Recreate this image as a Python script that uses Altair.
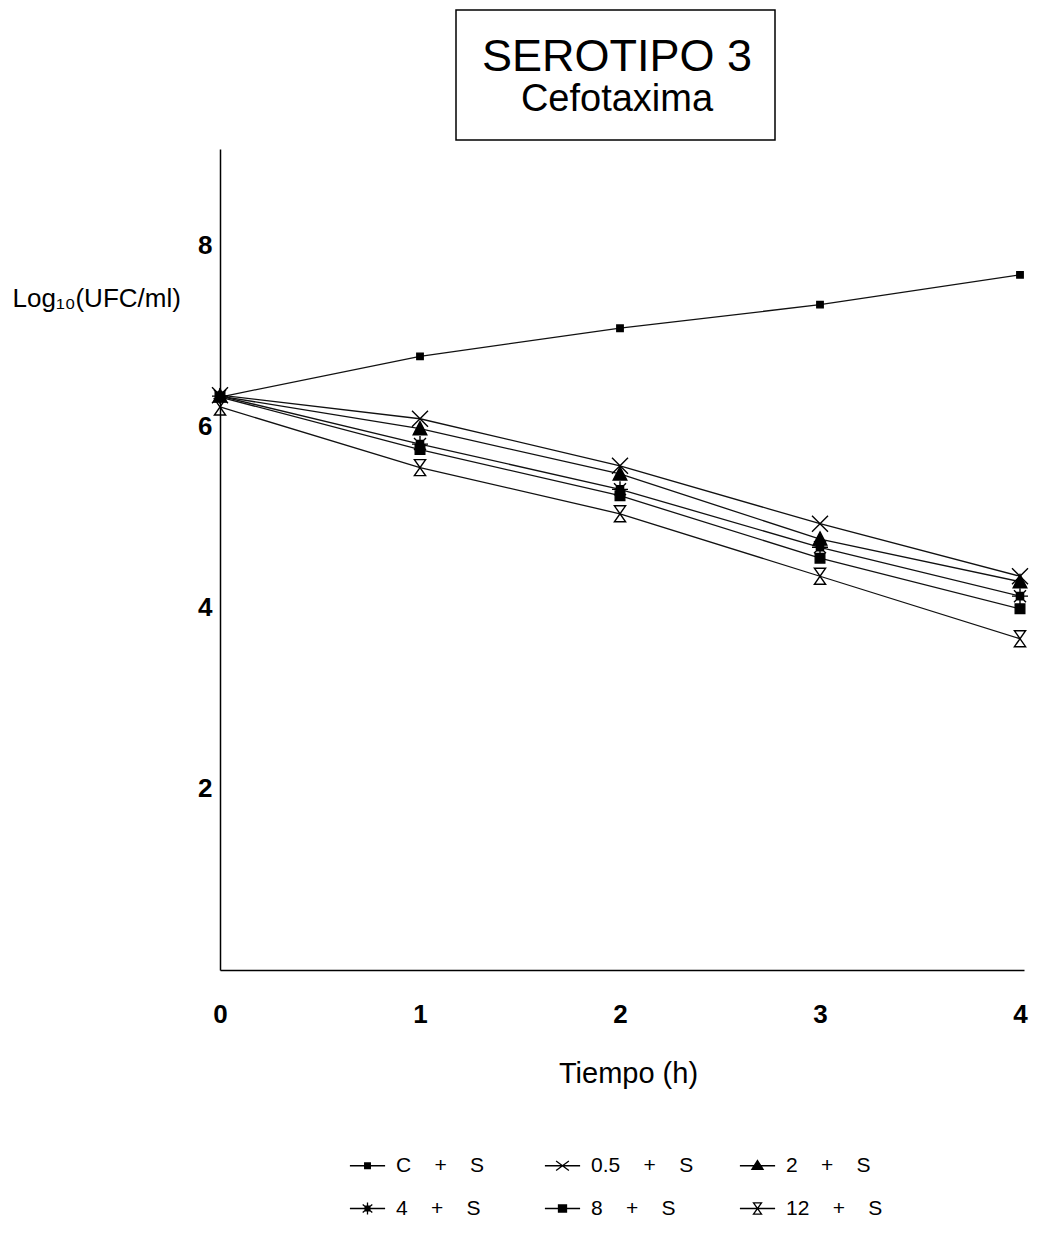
import altair as alt
import pandas as pd

# ---- data ----
series = ["C + S", "0.5 + S", "2 + S", "4 + S", "8 + S", "12 + S"]
tiempo = [0, 1, 2, 3, 4]
c_s = [6.33, 6.78, 7.09, 7.35, 7.68]
s05 = [6.35, 6.09, 5.57, 4.93, 4.35]
s2 = [6.34, 5.98, 5.48, 4.76, 4.29]
s4 = [6.34, 5.81, 5.31, 4.67, 4.13]
s8 = [6.33, 5.75, 5.24, 4.55, 3.99]
s12 = [6.22, 5.55, 5.04, 4.35, 3.66]
y_ticks = [2, 4, 6, 8]
title_lines = ["SEROTIPO 3", "Cefotaxima"]
x_title = "Tiempo (h)"
y_title = "Log\u2081\u2080(UFC/ml)"

values = [c_s, s05, s2, s4, s8, s12]
rows = []
for name, vals in zip(series, values):
    for t, v in zip(tiempo, vals):
        rows.append({"s": name, "t": t, "v": v})
df = pd.DataFrame(rows)

# marker shapes (unit = 8 px at size 256)
plot_paths = [
    "M-0.4,-0.4H0.4V0.4H-0.4Z",
    "M-1,-1L1,1M-1,1L1,-1",
    "M0,-0.9L0.85,0.75L-0.85,0.75Z",
    "M-1,0H1M0,-1V1M-0.75,-0.75L0.75,0.75M-0.75,0.75L0.75,-0.75M-0.45,-0.45H0.45V0.45H-0.45Z",
    "M-0.6,-0.6H0.6V0.6H-0.6Z",
    "M-0.7,-1H0.7L-0.7,1H0.7Z",
]
legend_paths = [
    "M-2.2,0H2.2M-0.35,-0.35H0.35V0.35H-0.35Z",
    "M-2.2,0H2.2M-0.8,-0.6L0.8,0.6M-0.8,0.6L0.8,-0.6",
    "M-2.2,0H2.2M0,-0.65L0.7,0.45L-0.7,0.45Z",
    "M-2.2,0H2.2M0,-0.75V0.75M-0.6,-0.5L0.6,0.5M-0.6,0.5L0.6,-0.5M-0.3,-0.3H0.3V0.3H-0.3Z",
    "M-2.2,0H2.2M-0.5,-0.45H0.5V0.45H-0.5Z",
    "M-2.2,0H2.2M-0.5,-0.7H0.5L-0.5,0.7H0.5Z",
]
fills = ["black", "transparent", "black", "black", "black", "transparent"]
strokes = ["black"] * 6

narrow = "Liberation Sans Narrow, Arial Narrow, Liberation Sans, Arial, sans-serif"
sans = "Liberation Sans, Arial, Helvetica, sans-serif"
gap = "\u00a0\u00a0\u00a0\u00a0"

base = alt.Chart(df)

x_enc = alt.X(
    "t:Q",
    scale=alt.Scale(domain=[0, 4.02], nice=False, zero=False),
    axis=alt.Axis(
        values=tiempo, format="d", title=x_title, ticks=False, labelPadding=31,
        labelFlush=False, labelBaseline="top", labelAlign="center",
        titleX=408, titleY=103, titleBaseline="middle", titleAlign="center",
        titleFontSize=29, titleFontWeight="normal", titleFont=narrow,
    ),
)
y_enc = alt.Y(
    "v:Q",
    scale=alt.Scale(domain=[0, 9.07], nice=False, zero=False),
    axis=alt.Axis(
        values=y_ticks, format="d", title=y_title, ticks=False, labelPadding=8,
        labelFlush=False, titleAngle=0, titleX=-208, titleY=149, titleAlign="left",
        titleBaseline="middle", titleFontSize=26, titleFontWeight="normal",
        titleFont=narrow,
    ),
)

lines = base.mark_line(color="#111111", strokeWidth=1.3).encode(
    x=x_enc, y=y_enc, detail="s:N", order="t:Q"
)

points = base.mark_point(opacity=1, stroke="black", strokeWidth=1.4, size=256).encode(
    x="t:Q",
    y="v:Q",
    shape=alt.Shape("s:N", scale=alt.Scale(domain=series, range=plot_paths), legend=None),
    fill=alt.Fill("s:N", scale=alt.Scale(domain=series, range=fills), legend=None),
)

leg = alt.Legend(
    title=None, orient="none", legendX=137, legendY=1006, columns=3,
    direction="horizontal", symbolSize=256, symbolStrokeWidth=1.3,
    symbolOpacity=1, labelFontSize=21, labelFont=sans,
    labelColor="black", labelOffset=18, columnPadding=43, rowPadding=21,
    gridAlign="all",
    labelExpr="join(split(datum.label, ' '), '" + gap + "')",
)
legend_layer = base.transform_filter("false").mark_point(
    opacity=1, strokeWidth=1.3, size=256
).encode(
    x="t:Q",
    y="v:Q",
    shape=alt.Shape("s:N", scale=alt.Scale(domain=series, range=legend_paths), legend=leg),
    fill=alt.Fill("s:N", scale=alt.Scale(domain=series, range=fills), legend=leg),
    stroke=alt.Stroke("s:N", scale=alt.Scale(domain=series, range=strokes), legend=leg),
)

one = alt.Chart(pd.DataFrame({"a": [0]}))
box = one.mark_rect(fill="white", stroke="black", strokeWidth=1.5).encode(
    x=alt.value(236), x2=alt.value(555), y=alt.value(-139), y2=alt.value(-9)
)
t1 = one.mark_text(
    text=title_lines[0], font=sans, fontSize=45, color="black",
    align="center", baseline="middle"
).encode(x=alt.value(397), y=alt.value(-92))
t2 = one.mark_text(
    text=title_lines[1], font=sans, fontSize=38, color="black",
    align="center", baseline="middle"
).encode(x=alt.value(397), y=alt.value(-49))

chart = (
    alt.layer(lines, points, legend_layer, box, t1, t2)
    .resolve_scale(shape="independent", fill="independent", stroke="independent")
    .properties(
        width=804, height=821,
        autosize=alt.AutoSizeParams(type="none"),
        padding={"left": 212, "top": 141, "right": 5, "bottom": 251},
        background="white",
    )
    .configure_view(stroke=None)
    .configure_axis(
        grid=False, domainColor="black", domainWidth=1.5,
        labelFont=sans, labelFontSize=26, labelFontWeight="bold",
        labelColor="black", titleColor="black",
    )
)

chart.save("out.html", embed_options={"renderer": "svg", "actions": False})
